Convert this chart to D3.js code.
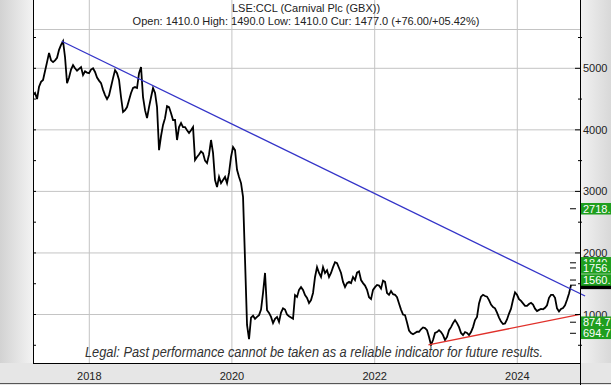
<!DOCTYPE html>
<html>
<head>
<meta charset="utf-8">
<script src="https://cdn.jsdelivr.net/npm/d3@7"></script>
<style>
body { margin: 0; background: #fff; }
svg { display: block; font-family: "Liberation Sans", Arial, sans-serif; }
</style>
</head>
<body>
<script>
const W = 611, H = 385
const left = 33, right = 580, bottom = 363

// closing prices (GBX), evenly spaced from startDate to endDate
const startDate = "2017-03-19"
const endDate = "2024-10-02"
const closes = [
  4565, 4600, 4500, 4700, 4780, 4810, 4955, 5100, 5250, 5130, 5100, 5130, 5170, 5300, 5380, 5440,
  5180, 4760, 4850, 4980, 5050, 5000, 4960, 4990, 5020, 4890, 4950, 4930, 4920, 4980, 5000, 4940,
  4850, 4800, 4760, 4650, 4565, 4500, 4560, 4700, 4840, 4970, 4920, 4810, 4530, 4290, 4320, 4370,
  4485, 4600, 4680, 4695, 4680, 4920, 5020, 4530, 4320, 4190, 4370, 4530, 4680, 4600, 4370, 3670,
  3900, 4080, 4190, 4385, 4370, 4270, 4160, 4160, 3835, 4045, 4110, 4045, 4045, 3995, 3950, 3995,
  4045, 3510, 3560, 3600, 3650, 3620, 3500, 3460, 3600, 3835, 3625, 3185, 3070, 3235, 3135, 3185,
  3235, 3135, 3300, 3560, 3720, 3670, 3350, 3235, 3135, 2910, 1885, 830, 600, 950, 980, 930,
  960, 990, 1080, 1350, 1675, 1070, 1025, 960, 860, 930, 960, 880, 1030, 1100, 1080, 1000,
  970, 950, 930, 1315, 1285, 1400, 1445, 1400, 1315, 1270, 1185, 1235, 1350, 1610, 1770, 1675,
  1610, 1770, 1675, 1720, 1610, 1675, 1770, 1850, 1835, 1755, 1675, 1530, 1445, 1510, 1530, 1510,
  1610, 1560, 1680, 1700, 1560, 1510, 1470, 1400, 1280, 1250, 1400, 1445, 1480, 1470, 1420, 1550,
  1530, 1350, 1320, 1380, 1330, 1320, 1280, 1180, 1080, 1000, 990, 870, 740, 700, 680, 700,
  720, 720, 760, 790, 780, 745, 635, 505, 585, 700, 715, 745, 715, 665, 585, 635,
  745, 795, 860, 910, 860, 795, 700, 665, 715, 700, 665, 715, 795, 910, 960, 1180,
  1290, 1320, 1300, 1290, 1235, 1160, 1120, 1100, 1030, 950, 885, 845, 855, 920, 1015, 1095,
  1240, 1360, 1320, 1250, 1220, 1180, 1140, 1140, 1170, 1190, 1160, 1095, 1055, 1075, 1090, 1085,
  1110, 1150, 1270, 1320, 1320, 1270, 1100, 1050, 1090, 1105, 1150, 1240, 1340, 1477
]

const yearTicks = [2018, 2020, 2022, 2024]
const priceGrid = [1000, 2000, 3000, 4000, 5000]
const minorTicks = [500, 1500, 2500, 3500, 4500, 5500]

// trend lines
const blueDates = ["2017-08-13", "2024-12-13"]
const blueValues = [5440, 1300]
const redDates = ["2022-10-03", "2024-11-17"]
const redValues = [505, 1002]

// price levels on the right
const levelValues = [2718, 1840, 1756, 1560, 874.7, 694.7]
const levelTexts = ["2718.", "1840.", "1756.", "1560.", "874.7", "694.7"]
const current = 1477

const title = "LSE:CCL (Carnival Plc (GBX))"
const subtitle = "Open: 1410.0 High: 1490.0 Low: 1410.0 Cur: 1477.0 (+76.00/+05.42%)"
const legal = "Legal:  Past performance cannot  be taken as a reliable  indicator for future results."

const parse = d3.timeParse("%Y-%m-%d")
const x = d3.scaleTime()
  .domain([new Date(2018, 0, 1), new Date(2024, 0, 1)])
  .range([89.3, 517.3])
const y = d3.scaleLinear().domain([1000, 5000]).range([314.5, 68.3])

const idx = d3.scaleLinear().domain([0, closes.length - 1])
  .range([parse(startDate), parse(endDate)].map(d => d.getTime()))
const data = closes.map((v, i) => ({ date: new Date(idx(i)), value: v }))

const svg = d3.select("body").append("svg")
  .attr("width", W)
  .attr("height", H)

const defs = svg.append("defs")
const lg = defs.append("linearGradient").attr("id", "lpanel")
lg.append("stop").attr("offset", "0%").attr("stop-color", "#d2d2d2")
lg.append("stop").attr("offset", "100%").attr("stop-color", "#f3f3f3")
const rg = defs.append("linearGradient").attr("id", "rpanel")
rg.append("stop").attr("offset", "0%").attr("stop-color", "#f2f2f2")
rg.append("stop").attr("offset", "100%").attr("stop-color", "#d8d8d8")
defs.append("clipPath").attr("id", "plot")
  .append("rect").attr("x", left).attr("y", 0).attr("width", right - left).attr("height", bottom)

// frame
svg.append("rect").attr("width", W).attr("height", H).attr("fill", "#e4e4e4")
svg.append("rect").attr("x", 0).attr("y", 0).attr("width", left).attr("height", H).attr("fill", "url(#lpanel)")
svg.append("rect").attr("x", right).attr("y", 0).attr("width", W - right).attr("height", H).attr("fill", "url(#rpanel)")
svg.append("rect").attr("x", left).attr("y", 0).attr("width", right - left).attr("height", bottom).attr("fill", "#fff")
svg.append("rect").attr("x", 0).attr("y", bottom).attr("width", W).attr("height", H - bottom).attr("fill", "#e6e6e6")
svg.append("line").attr("x1", 0).attr("x2", W).attr("y1", H - 1.5).attr("y2", H - 1.5)
  .attr("stroke", "#555").attr("stroke-width", 1)

// grid
svg.append("g").selectAll("line").data(priceGrid).join("line")
  .attr("x1", left).attr("x2", right)
  .attr("y1", d => y(d)).attr("y2", d => y(d))
  .attr("stroke", "#c4c4c4")
svg.append("g").selectAll("line").data(yearTicks).join("line")
  .attr("x1", d => x(new Date(d, 0, 1))).attr("x2", d => x(new Date(d, 0, 1)))
  .attr("y1", 0).attr("y2", bottom)
  .attr("stroke", "#c4c4c4")
svg.append("line").attr("x1", left).attr("x2", right).attr("y1", 29.5).attr("y2", 29.5)
  .attr("stroke", "#c4c4c4")

// title
svg.append("text").attr("x", 306).attr("y", 12).attr("text-anchor", "middle")
  .attr("font-size", 11).attr("fill", "#222").text(title)
svg.append("text").attr("x", 306).attr("y", 25).attr("text-anchor", "middle")
  .attr("font-size", 11).attr("fill", "#222").text(subtitle)

// price
svg.append("path").datum(data)
  .attr("clip-path", "url(#plot)")
  .attr("fill", "none")
  .attr("stroke", "#000")
  .attr("stroke-width", 1.8)
  .attr("stroke-linejoin", "miter")
  .attr("d", d3.line().x(d => x(d.date)).y(d => y(d.value)))

// trend lines
svg.append("line")
  .attr("x1", x(parse(blueDates[0]))).attr("y1", y(blueValues[0]))
  .attr("x2", x(parse(blueDates[1]))).attr("y2", y(blueValues[1]))
  .attr("stroke", "#3434c8").attr("stroke-width", 1.3)
svg.append("line")
  .attr("x1", x(parse(redDates[0]))).attr("y1", y(redValues[0]))
  .attr("x2", x(parse(redDates[1]))).attr("y2", y(redValues[1]))
  .attr("stroke", "#e0302a").attr("stroke-width", 1.3)

// legal
svg.append("text").attr("x", 314).attr("y", 357).attr("text-anchor", "middle")
  .attr("font-size", 14).attr("font-style", "italic").attr("fill", "#333")
  .attr("textLength", 458).attr("lengthAdjust", "spacingAndGlyphs")
  .text(legal)

// axes lines
svg.append("line").attr("x1", left + 0.5).attr("x2", left + 0.5).attr("y1", 0).attr("y2", bottom)
  .attr("stroke", "#000")
svg.append("line").attr("x1", right + 0.5).attr("x2", right + 0.5).attr("y1", 0).attr("y2", H)
  .attr("stroke", "#000")
svg.append("line").attr("x1", left).attr("x2", right).attr("y1", bottom + 0.5).attr("y2", bottom + 0.5)
  .attr("stroke", "#000")

// left ticks
svg.append("g").selectAll("line").data(minorTicks.concat(priceGrid)).join("line")
  .attr("x1", left).attr("x2", left + 3)
  .attr("y1", d => y(d)).attr("y2", d => y(d))
  .attr("stroke", "#000")

// right axis
const yAxis = d3.axisRight(y).tickValues(priceGrid).tickSize(0).tickPadding(3)
  .tickFormat(d3.format("d"))
const ga = svg.append("g").attr("transform", `translate(${right},0)`).call(yAxis)
ga.select(".domain").remove()
ga.selectAll("text").attr("font-size", 11).attr("fill", "#222")
  .attr("font-family", "Liberation Sans, Arial, sans-serif")
svg.append("g").selectAll("line").data(priceGrid).join("line")
  .attr("x1", right - 5).attr("x2", right)
  .attr("y1", d => y(d)).attr("y2", d => y(d)).attr("stroke", "#000")
svg.append("g").selectAll("line").data(minorTicks).join("line")
  .attr("x1", right - 2).attr("x2", right + 2)
  .attr("y1", d => y(d)).attr("y2", d => y(d)).attr("stroke", "#000")

// bottom axis labels
svg.append("g").selectAll("text").data(yearTicks).join("text")
  .attr("x", d => x(new Date(d, 0, 1))).attr("y", 380)
  .attr("text-anchor", "middle").attr("font-size", 11).attr("fill", "#222")
  .text(d => d)

// level markers
const boxH = 11.5
svg.append("g").selectAll("line").data(levelValues.concat([current])).join("line")
  .attr("x1", 570).attr("x2", 576)
  .attr("y1", d => y(d)).attr("y2", d => y(d)).attr("stroke", "#000")

const levels = levelValues.map((v, i) => ({ value: v, text: levelTexts[i] }))
const upper = levels.filter(d => d.value > current)
const lower = levels.filter(d => d.value < current)

function drawLevel(g, d, fill) {
  g.append("rect").attr("x", right + 1).attr("y", y(d.value) - boxH / 2)
    .attr("width", W - right).attr("height", boxH).attr("fill", fill)
  g.append("text").attr("x", right + 3).attr("y", y(d.value)).attr("dy", "0.36em")
    .attr("font-size", 11).attr("fill", "#fff").text(d.text)
}
const lv = svg.append("g")
lv.append("rect").attr("x", right + 1).attr("y", y(current) - 4).attr("width", W - right)
  .attr("height", 8).attr("fill", "#000")
upper.forEach(d => drawLevel(lv, d, "#1e9e1e"))
lower.forEach(d => drawLevel(lv, d, "#1e9e1e"))
</script>
</body>
</html>
